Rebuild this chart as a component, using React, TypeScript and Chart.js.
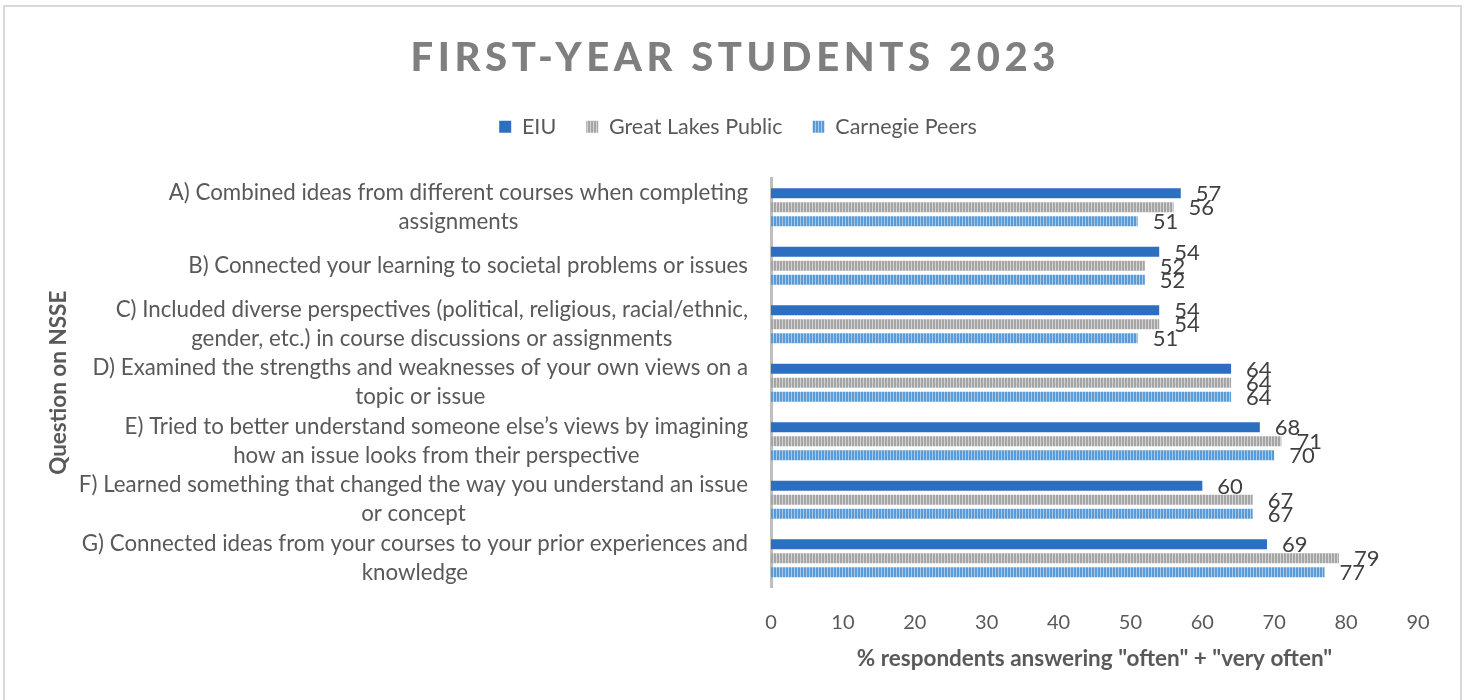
import React, { useEffect, useRef } from 'react';
import { Chart, registerables } from 'chart.js';

Chart.register(...registerables);

// ---- data ----
const categories: string[][] = [
  ['A) Combined ideas from different courses when completing', 'assignments'],
  ['B) Connected your learning to societal problems or issues'],
  ['C) Included diverse perspectives (political, religious, racial/ethnic,', 'gender, etc.) in course discussions or assignments'],
  ['D) Examined the strengths and weaknesses of your own views on a', 'topic or issue'],
  ['E) Tried to better understand someone else\u2019s views by imagining', 'how an issue looks from their perspective'],
  ['F) Learned something that changed the way you understand an issue', 'or concept'],
  ['G) Connected ideas from your courses to your prior experiences and', 'knowledge'],
];
const seriesNames = ['EIU', 'Great Lakes Public', 'Carnegie Peers'];
const eiuValues = [57, 54, 54, 64, 68, 60, 69];
const greatLakesValues = [56, 52, 54, 64, 71, 67, 79];
const carnegieValues = [51, 52, 51, 64, 70, 67, 77];
const xMin = 0;
const xMax = 90;
const xStep = 10;
const chartTitle = 'FIRST-YEAR STUDENTS 2023';
const xAxisTitle = '% respondents answering "often" + "very often"';
const yAxisTitle = 'Question on NSSE';

const FONT = 'Lato';
const TEXT_GRAY = '#595959';

export default function App() {
  const canvasRef = useRef<HTMLCanvasElement | null>(null);

  useEffect(() => {
    document.body.style.margin = '0';
    const canvas = canvasRef.current;
    if (!canvas) return;
    const ctx = canvas.getContext('2d')!;

    const stripe = (dark: string, light: string) => {
      const c = document.createElement('canvas');
      c.width = 3;
      c.height = 1;
      const g = c.getContext('2d')!;
      g.fillStyle = light;
      g.fillRect(0, 0, 3, 1);
      g.fillStyle = dark;
      g.fillRect(0, 0, 2, 1);
      return ctx.createPattern(c, 'repeat')!;
    };

    const grayPattern = stripe('#A5A5A5', '#D3D3D3');
    const bluePattern = stripe('#5B9BD5', '#A8CBEB');

    const framePlugin = {
      id: 'frame',
      beforeDraw(chart: any) {
        const c = chart.ctx;
        c.save();
        c.fillStyle = '#ffffff';
        c.fillRect(0, 0, chart.width, chart.height);
        c.strokeStyle = '#D9D9D9';
        c.lineWidth = 2;
        c.strokeRect(4, 6, 1457, 720);
        c.restore();
      },
    };

    const titlePlugin = {
      id: 'spacedTitle',
      afterDraw(chart: any) {
        const c = chart.ctx;
        c.save();
        c.font = `900 40px ${FONT}`;
        c.fillStyle = '#7F7F7F';
        c.textBaseline = 'middle';
        c.textAlign = 'left';
        const plain = c.measureText(chartTitle).width;
        const targetWidth = 645;
        const spacing = (targetWidth - plain) / (chartTitle.length - 1);
        (c as any).letterSpacing = `${spacing}px`;
        c.fillText(chartTitle, 733 - targetWidth / 2, 58);
        c.restore();
      },
    };

    const categoryLabelPlugin = {
      id: 'categoryLabels',
      afterDraw(chart: any) {
        const c = chart.ctx;
        const yScale = chart.scales.y;
        const right = chart.chartArea.left - 23;
        const lineH = 29;
        c.save();
        c.font = `22.3px ${FONT}`;
        c.fillStyle = TEXT_GRAY;
        c.textAlign = 'center';
        c.textBaseline = 'middle';
        categories.forEach((lines, i) => {
          const y = yScale.getPixelForValue(i);
          const maxW = Math.max(...lines.map((l) => c.measureText(l).width));
          const cx = right - maxW / 2;
          const startY = y - ((lines.length - 1) * lineH) / 2;
          lines.forEach((l, k) => c.fillText(l, cx, startY + k * lineH));
        });
        c.restore();
      },
    };

    const valueLabelPlugin = {
      id: 'valueLabels',
      afterDatasetsDraw(chart: any) {
        const c = chart.ctx;
        c.save();
        c.font = `22px ${FONT}`;
        c.fillStyle = '#404040';
        c.textAlign = 'left';
        c.textBaseline = 'middle';
        chart.data.datasets.forEach((ds: any, di: number) => {
          const meta = chart.getDatasetMeta(di);
          meta.data.forEach((el: any, i: number) => {
            c.fillText(String(ds.data[i]), el.x + 15, el.y + 1);
          });
        });
        c.restore();
      },
    };

    let chart: Chart | null = null;
    let cancelled = false;

    const build = () => {
      if (cancelled) return;
      chart = new Chart(canvas, {
        type: 'bar',
        data: {
          labels: categories,
          datasets: [
            { label: seriesNames[0], data: eiuValues, backgroundColor: '#2C6EC0', borderWidth: 0 },
            { label: seriesNames[1], data: greatLakesValues, backgroundColor: grayPattern as any, borderWidth: 0 },
            { label: seriesNames[2], data: carnegieValues, backgroundColor: bluePattern as any, borderWidth: 0 },
          ],
        },
        options: {
          indexAxis: 'y',
          responsive: false,
          animation: false,
          devicePixelRatio: 1,
          layout: { padding: { top: 86, left: 58, right: 50, bottom: 30 } },
          datasets: { bar: { categoryPercentage: 0.715, barPercentage: 0.72 } },
          plugins: {
            title: { display: false },
            tooltip: { enabled: false },
            legend: {
              display: true,
              position: 'top',
              labels: {
                font: { family: FONT, size: 21.5 },
                color: TEXT_GRAY,
                boxWidth: 12,
                boxHeight: 12,
                padding: 30,
              },
            },
          },
          scales: {
            x: {
              min: xMin,
              max: xMax,
              grid: { display: false },
              border: { display: false },
              ticks: {
                stepSize: xStep,
                font: { family: FONT, size: 20 },
                color: TEXT_GRAY,
                padding: 15,
              },
              title: {
                display: true,
                text: xAxisTitle,
                font: { family: FONT, size: 22.5, weight: 'bold', lineHeight: 1 },
                color: TEXT_GRAY,
                padding: { top: -2, bottom: 0 },
              },
            },
            xGap: {
              type: 'linear',
              position: 'top',
              display: true,
              grid: { display: false },
              border: { display: false },
              ticks: { display: false },
              afterFit(scale: any) {
                scale.height = 30.5;
              },
            },
            y: {
              grid: { display: false },
              border: { display: true, color: '#BFBFBF', width: 3 },
              ticks: { display: false },
              title: {
                display: true,
                text: yAxisTitle,
                font: { family: FONT, size: 22.5, weight: 'bold' },
                color: TEXT_GRAY,
                padding: { top: -13, bottom: 0 },
              },
              afterFit(scale: any) {
                scale.width = 713;
              },
            },
          },
        },
        plugins: [framePlugin, titlePlugin, categoryLabelPlugin, valueLabelPlugin],
      } as any);
    };

    const fontsReady = (document as any).fonts
      ? Promise.all([
          (document as any).fonts.load(`20px ${FONT}`),
          (document as any).fonts.load(`bold 20px ${FONT}`),
          (document as any).fonts.load(`900 20px ${FONT}`),
        ]).catch(() => null)
      : Promise.resolve(null);
    fontsReady.then(build);

    return () => {
      cancelled = true;
      if (chart) chart.destroy();
    };
  }, []);

  return (
    <div style={{ width: 1468, height: 700, background: '#ffffff' }}>
      <canvas ref={canvasRef} width={1468} height={700} style={{ display: 'block', width: 1468, height: 700 }} />
    </div>
  );
}
